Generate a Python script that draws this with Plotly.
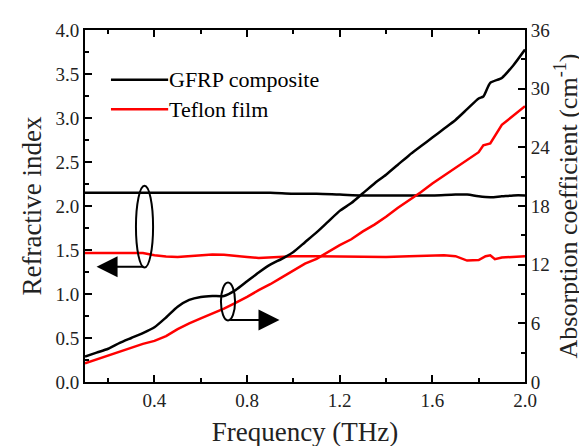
import plotly.graph_objects as go

# Refractive index (left axis)
freq_n = [0.10, 0.20, 0.30, 0.40, 0.50, 0.60, 0.70, 0.80, 0.90, 1.00, 1.10, 1.20,
          1.30, 1.40, 1.50, 1.60, 1.70, 1.75, 1.80, 1.85, 1.90, 1.95, 2.00]
n_gfrp = [2.15, 2.15, 2.15, 2.15, 2.15, 2.15, 2.15, 2.15, 2.15, 2.14, 2.14, 2.13,
          2.12, 2.12, 2.12, 2.12, 2.13, 2.13, 2.11, 2.10, 2.11, 2.12, 2.12]
freq_t = [0.10, 0.20, 0.30, 0.35, 0.40, 0.45, 0.50, 0.55, 0.60, 0.65, 0.70, 0.75,
          0.80, 0.85, 0.90, 1.00, 1.10, 1.20, 1.30, 1.40, 1.50, 1.60, 1.65,
          1.70, 1.75, 1.80, 1.83, 1.85, 1.87, 1.90, 1.95, 2.00]
n_teflon = [1.465, 1.465, 1.465, 1.465, 1.44, 1.425, 1.42, 1.43, 1.445, 1.45, 1.445, 1.43,
            1.42, 1.41, 1.415, 1.43, 1.43, 1.425, 1.42, 1.42, 1.43, 1.435, 1.44,
            1.43, 1.38, 1.385, 1.43, 1.44, 1.395, 1.415, 1.425, 1.43]

# Absorption coefficient (right axis, cm^-1)
freq_a = [0.10, 0.15, 0.20, 0.25, 0.30, 0.35, 0.40, 0.45, 0.50, 0.55, 0.60, 0.65,
          0.70, 0.75, 0.80, 0.85, 0.90, 0.95, 1.00, 1.05, 1.10, 1.15, 1.20, 1.25,
          1.30, 1.35, 1.40, 1.45, 1.50, 1.55, 1.60, 1.65, 1.70, 1.75, 1.80, 1.82,
          1.85, 1.90, 1.95, 2.00]
a_gfrp = [2.6, 3.0, 3.4, 4.0, 4.5, 5.0, 5.6, 6.6, 7.7, 8.4, 8.7, 8.8,
          8.8, 9.4, 10.3, 11.2, 12.0, 12.6, 13.3, 14.3, 15.3, 16.4, 17.5, 18.3,
          19.3, 20.3, 21.2, 22.2, 23.2, 24.1, 25.0, 25.9, 26.8, 27.9, 29.0, 29.2,
          30.6, 31.1, 32.4, 34.0]
a_teflon = [1.9, 2.3, 2.7, 3.1, 3.5, 3.9, 4.2, 4.7, 5.4, 6.0, 6.5, 7.0,
            7.5, 8.1, 8.7, 9.4, 10.0, 10.7, 11.4, 12.1, 12.6, 13.3, 14.0, 14.6,
            15.4, 16.1, 16.9, 17.8, 18.6, 19.4, 20.3, 21.1, 21.9, 22.7, 23.5, 24.2,
            24.4, 26.3, 27.3, 28.2]

series_names = ["GFRP composite", "Teflon film"]
series_colors = ["#000000", "#ff0000"]

font_family = "'Liberation Serif', 'DejaVu Serif', 'Times New Roman', serif"

fig = go.Figure()
fig.add_trace(go.Scatter(x=freq_n, y=n_gfrp, mode="lines", line=dict(color=series_colors[0], width=2.5, shape="spline"),
                         name=series_names[0], showlegend=False))
fig.add_trace(go.Scatter(x=freq_t, y=n_teflon, mode="lines", line=dict(color=series_colors[1], width=2.5),
                         name=series_names[1], showlegend=False))
fig.add_trace(go.Scatter(x=freq_a, y=a_gfrp, mode="lines", line=dict(color=series_colors[0], width=2.5, shape="spline", smoothing=0.6),
                         yaxis="y2", name=series_names[0], showlegend=False))
fig.add_trace(go.Scatter(x=freq_a, y=a_teflon, mode="lines", line=dict(color=series_colors[1], width=2.5),
                         yaxis="y2", name=series_names[1], showlegend=False))

# Ellipses marking the curve groups
fig.add_shape(type="circle", xref="x", yref="y", x0=0.32, x1=0.394, y0=1.30, y1=2.23,
              line=dict(color="black", width=2))
fig.add_shape(type="circle", xref="x", yref="y", x0=0.687, x1=0.748, y0=0.70, y1=1.13,
              line=dict(color="black", width=2))

# Arrows
fig.add_annotation(x=0.15, y=1.31, ax=0.36, ay=1.31, xref="x", yref="y", axref="x", ayref="y",
                   showarrow=True, arrowhead=2, arrowsize=2.1, arrowwidth=2, arrowcolor="black", text="")
fig.add_annotation(x=0.94, y=0.705, ax=0.72, ay=0.705, xref="x", yref="y", axref="x", ayref="y",
                   showarrow=True, arrowhead=2, arrowsize=2.1, arrowwidth=2, arrowcolor="black", text="")

# Manual legend
for i, (nm, col) in enumerate(zip(series_names, series_colors)):
    yy = 0.859 - i * 0.084
    fig.add_shape(type="line", xref="paper", yref="paper", x0=0.059, x1=0.189, y0=yy, y1=yy,
                  line=dict(color=col, width=2.5))
    fig.add_annotation(x=0.186, y=yy, xref="paper", yref="paper", text=nm, showarrow=False,
                       xanchor="left", yanchor="middle", font=dict(family=font_family, size=22, color="black"))

axis_common = dict(showline=True, linecolor="black", linewidth=2, ticks="inside", ticklen=7,
                   tickwidth=2, tickcolor="black", showgrid=False, zeroline=False,
                   tickfont=dict(family=font_family, size=19, color="#222"))

fig.update_layout(
    width=587, height=446,
    margin=dict(l=77, r=70, t=20, b=71),
    plot_bgcolor="white", paper_bgcolor="white",
    font=dict(family=font_family),
    xaxis=dict(range=[0.1, 2.0], tickvals=[0.4, 0.8, 1.2, 1.6, 2.0], ticktext=["0.4", "0.8", "1.2", "1.6", "2.0"],
               mirror="ticks", minor=dict(ticks="inside", ticklen=4, tickwidth=2, tickcolor="black", dtick=0.2, tick0=0),
               title=dict(text="Frequency (THz)", font=dict(family=font_family, size=27, color="#222"), standoff=12),
               **axis_common),
    yaxis=dict(range=[0, 4.0], dtick=0.5, tickformat=".1f",
               minor=dict(ticks="inside", ticklen=4, tickwidth=2, tickcolor="black", dtick=0.25),
               title=dict(text="Refractive index", font=dict(family=font_family, size=27, color="#222"), standoff=6),
               **axis_common),
    yaxis2=dict(range=[0, 36], dtick=6, overlaying="y", side="right",
                minor=dict(ticks="inside", ticklen=4, tickwidth=2, tickcolor="black", dtick=3),
                title=dict(text="Absorption coefficient (cm<sup>-1</sup>)", font=dict(family=font_family, size=26, color="#222"), standoff=6),
                **axis_common),
)

fig.write_html("out.html")
